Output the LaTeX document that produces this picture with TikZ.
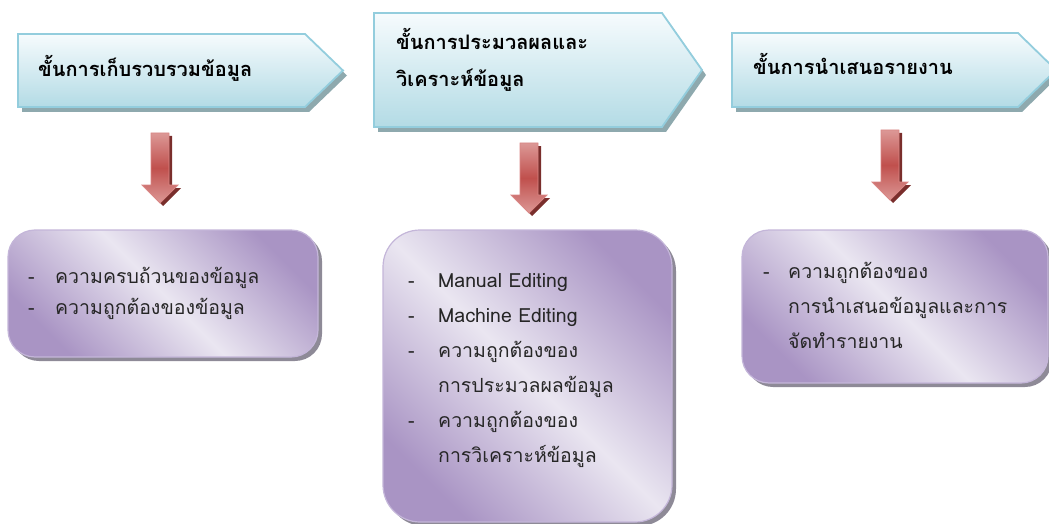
\documentclass[tikz,border=0pt]{standalone}
\usepackage{fontspec}
\newfontfamily\thai[Script=Thai]{Loma}
\definecolor{chevtop}{HTML}{F6FBFD}
\definecolor{chevbot}{HTML}{B3DBE5}
\definecolor{chevborder}{HTML}{93CDDD}
\definecolor{chevshadow}{HTML}{8EA9AE}
\definecolor{boxdark}{HTML}{A994C4}
\definecolor{boxlight}{HTML}{EAE6F1}
\definecolor{boxborder}{HTML}{C4B6D9}
\definecolor{boxshadow}{HTML}{8E8A97}
\definecolor{arrmain}{HTML}{C0504D}
\definecolor{arrlight}{HTML}{DC9896}
\definecolor{arrshadow}{HTML}{7A2E2C}
\definecolor{arrborder}{HTML}{D98684}
\tikzset{
  chev/.style={draw=chevborder, line width=1.8pt, top color=chevtop, bottom color=chevbot},
  chevsh/.style={fill=chevshadow},
  pbox/.style={draw=boxborder, line width=1.2pt, left color=boxdark, right color=boxdark, middle color=boxlight, shading angle=-45},
  pboxsh/.style={fill=boxshadow},
  barrow/.style={draw=arrborder, line width=0.8pt, top color=arrlight, bottom color=arrlight, middle color=arrmain},
  barrowsh/.style={fill=arrshadow},
  head/.style={font=\thai\bfseries\fontsize{20}{24}\selectfont, inner sep=0pt, anchor=base west},
  item/.style={font=\thai\fontsize{19.5}{22}\selectfont, inner sep=0pt, anchor=base west, text=black!85},
}
\begin{document}
\begin{tikzpicture}[x=1pt,y=-1pt]
\useasboundingbox (0,0) rectangle (1049,524);
% chevrons
\foreach \l/\t/\b/\r/\tip in {18/34/107/305/343, 374/13/127/662/702, 732/33/107/1018/1056}{
  \pgfmathsetmacro\m{(\t+\b)/2}
  \fill[chevsh] ([shift={(4,5)}]\l,\t) -- ([shift={(4,5)}]\r,\t) -- ([shift={(4,5)}]\tip,\m) -- ([shift={(4,5)}]\r,\b) -- ([shift={(4,5)}]\l,\b) -- cycle;
  \path[chev] (\l,\t) -- (\r,\t) -- (\tip,\m) -- (\r,\b) -- (\l,\b) -- cycle;
}
\node[head] (h1) at (38,77) {ขั้นการเก็บรวบรวมข้อมูล};
\node[head] (h2a) at (396,50) {ขั้นการประมวลผลและ};
\node[head] (h2b) at (396,87) {วิเคราะห์ข้อมูล};
\node[head] (h3) at (753,75) {ขั้นการนำเสนอรายงาน};
% block arrows
\foreach \c/\t/\h/\e in {160/133/185/203, 529/143/195/213, 890/130/182/200}{
  \fill[barrowsh] ([shift={(3,3)}]\c-9,\t) -- ([shift={(3,3)}]\c+9,\t) -- ([shift={(3,3)}]\c+9,\h) -- ([shift={(3,3)}]\c+18,\h) -- ([shift={(3,3)}]\c,\e) -- ([shift={(3,3)}]\c-18,\h) -- ([shift={(3,3)}]\c-9,\h) -- cycle;
  \path[barrow] (\c-9,\t) -- (\c+9,\t) -- (\c+9,\h) -- (\c+18,\h) -- (\c,\e) -- (\c-18,\h) -- (\c-9,\h) -- cycle;
}
% boxes
\fill[pboxsh, rounded corners=27pt] (12,234) rectangle (322,361);
\path[pbox, rounded corners=27pt] (8,230) rectangle (318,357);
\fill[pboxsh, rounded corners=37pt] (387,234) rectangle (676,526);
\path[pbox, rounded corners=37pt] (383,230) rectangle (672,522);
\fill[pboxsh, rounded corners=27pt] (746,234) rectangle (1052,387);
\path[pbox, rounded corners=27pt] (742,230) rectangle (1048,383);
% box 1 text
\node[item] (d11) at (28,283) {-};
\node[item] (t11) at (55,283) {ความครบถ้วนของข้อมูล};
\node[item] (d12) at (28,314) {-};
\node[item] (t12) at (55,314) {ความถูกต้องของข้อมูล};
% box 2 text
\node[item] (d21) at (408,287) {-};
\node[item] (t21) at (438,287) {Manual Editing};
\node[item] (d22) at (408,322) {-};
\node[item] (t22) at (438,322) {Machine Editing};
\node[item] (d23) at (408,357) {-};
\node[item] (t23) at (438,357) {ความถูกต้องของ};
\node[item] (t24) at (438,392) {การประมวลผลข้อมูล};
\node[item] (d25) at (408,427) {-};
\node[item] (t25) at (438,427) {ความถูกต้องของ};
\node[item] (t26) at (438,462) {การวิเคราะห์ข้อมูล};
% box 3 text
\node[item] (d31) at (763,278) {-};
\node[item] (t31) at (788,278) {ความถูกต้องของ};
\node[item] (t32) at (788,313) {การนำเสนอข้อมูลและการ};
\node[item] (t33) at (788,348) {จัดทำรายงาน};
\end{tikzpicture}
\end{document}
